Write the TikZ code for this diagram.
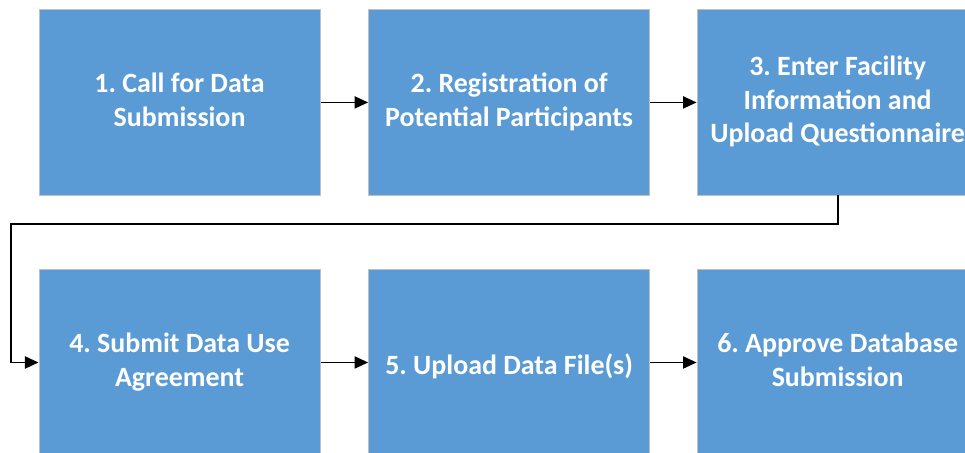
\documentclass[tikz,border=0pt]{standalone}
\usepackage{fontspec}
\setmainfont{Carlito}
\usepackage{xcolor}
\usepackage{tikz}
\usetikzlibrary{arrows.meta}
\frenchspacing

\definecolor{boxblue}{HTML}{5B9BD5}
\definecolor{boxedge}{HTML}{C0C0C0}

\tikzset{
  stepbox/.style = {rectangle, fill=boxblue, draw=boxedge, line width=0.6pt,
    minimum width=7.44cm, minimum height=4.90cm, inner sep=0pt, align=center,
    text=white, font=\fontsize{21}{25.4}\selectfont\bfseries,
    execute at begin node=\rule{0pt}{23pt},
    execute at end node=\rule[-4.5pt]{0pt}{4.5pt}},
  flow/.style = {line width=1.4pt, -{Triangle[length=0.36cm, width=0.32cm]}}
}

\begin{document}
\begin{tikzpicture}
    \useasboundingbox (0,0) rectangle (25.53,-11.96);
    % first row
    \node (b1) at (4.75,-2.71) [stepbox] {1. Call for Data\\Submission};
    \node (b2) at (13.47,-2.71) [stepbox] {2. Registration of\\Potential Participants};
    \node (b3) at (22.16,-2.71) [stepbox] {3. Enter Facility\\Information and\\Upload Questionnaire};
    % second row
    \node (b4) at (4.75,-9.59) [stepbox] {4. Submit Data Use\\Agreement};
    \node (b5) at (13.47,-9.59) [stepbox] {5. Upload Data File(s)};
    \node (b6) at (22.16,-9.59) [stepbox] {6. Approve Database\\Submission};
    % turn point of the return line
    \coordinate (loop) at (0.29,-5.93);

    % connections
    \draw [flow] (b1) -- (b2);
    \draw [flow] (b2) -- (b3);
    \draw [flow] (b3.south) |- (loop) |- (b4.west);
    \draw [flow] (b4) -- (b5);
    \draw [flow] (b5) -- (b6);
\end{tikzpicture}
\end{document}
